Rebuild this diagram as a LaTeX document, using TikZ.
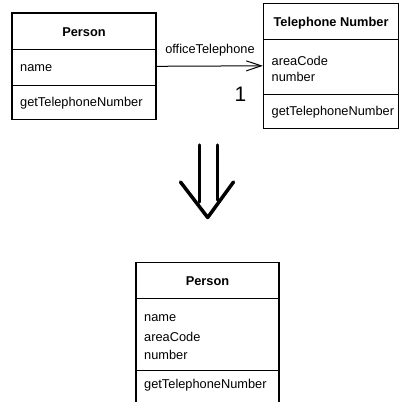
\documentclass[tikz,border=0pt]{standalone}
\usepackage{fontspec}
\setmainfont{Liberation Sans}
\usetikzlibrary{arrows.meta}
\begin{document}
\begin{tikzpicture}[x=1pt,y=-1pt,
  classbox/.style={draw, line width=1.3pt, inner sep=0pt, minimum width=#1},
  divider/.style={line width=1pt},
  member/.style={anchor=base west, inner sep=0pt, font=\fontsize{12.8}{15}\selectfont},
  title/.style={anchor=base, inner sep=0pt, font=\fontsize{12.8}{15}\selectfont\bfseries},
  assoc/.style={line width=1pt, -{Straight Barb[length=15pt,width=10pt,line width=1pt]}},
  refactor/.style={line width=3.5pt, line cap=round, line join=round}]
\useasboundingbox (0,0) rectangle (401,402);
\clip (0,0) rectangle (401,402);

% Person class before the refactoring
\node[classbox=144pt, minimum height=106.7pt] (person) at (84,66.3) {};
\draw[divider] (person.west |- 0,49.3) -- (person.east |- 0,49.3);
\draw[divider] (person.west |- 0,85) -- (person.east |- 0,85);
\node[title] (personTitle) at (84,36) {Person};
\node[member] (personName) at (20,71) {name};
\node[member] (personOp) at (20,106) {getTelephoneNumber};

% Telephone Number class
\node[classbox=135pt, minimum height=125pt] (tel) at (331,65.8) {};
\draw[divider] (tel.west |- 0,39.3) -- (tel.east |- 0,39.3);
\draw[divider] (tel.west |- 0,94.3) -- (tel.east |- 0,94.3);
\node[title] (telTitle) at (331,26.7) {Telephone Number};
\node[member] (telArea) at (271.5,65) {areaCode};
\node[member] (telNumber) at (271.5,81.7) {number};
\node[member] (telOp) at (271.5,115) {getTelephoneNumber};

% Association between the two classes
\draw[assoc] (person.east) -- (tel.west);
\node[anchor=base, inner sep=0pt, font=\fontsize{12.8}{15}\selectfont] (roleName) at (210,53) {officeTelephone};
\node[anchor=base, inner sep=0pt, font=\fontsize{21}{24}\selectfont] (multiplicity) at (240.5,101.7) {1};

% Refactoring arrow
\coordinate (leftTop) at (199.3,145);
\coordinate (leftEnd) at (199.3,202);
\coordinate (rightTop) at (217.5,145);
\coordinate (rightEnd) at (217.5,200);
\coordinate (headLeft) at (180.5,182);
\coordinate (headTip) at (207.7,217.5);
\coordinate (headRight) at (233.5,182);
\draw[refactor] (leftTop) -- (leftEnd);
\draw[refactor] (rightTop) -- (rightEnd);
\draw[refactor] (headLeft) -- (headTip) -- (headRight);

% Person class after inlining Telephone Number
\node[classbox=143pt, minimum height=160pt] (merged) at (207.5,342.3) {};
\draw[divider] (merged.west |- 0,298.3) -- (merged.east |- 0,298.3);
\draw[divider] (merged.west |- 0,370.5) -- (merged.east |- 0,370.5);
\node[title] (mergedTitle) at (207.5,285.7) {Person};
\node[member] (mergedName) at (144,321.7) {name};
\node[member] (mergedArea) at (144,341) {areaCode};
\node[member] (mergedNumber) at (144,359.5) {number};
\node[member] (mergedOp) at (144,388.3) {getTelephoneNumber};
\end{tikzpicture}
\end{document}
